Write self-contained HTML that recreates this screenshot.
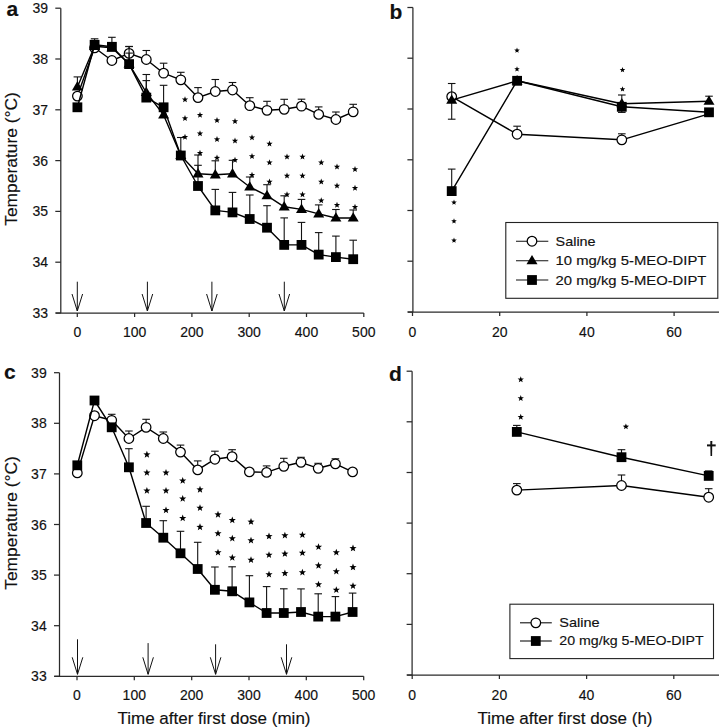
<!DOCTYPE html>
<html><head><meta charset="utf-8"><style>
html,body{margin:0;padding:0;background:#fff;width:719px;height:727px;overflow:hidden}
svg{display:block}
text{font-family:"Liberation Sans",sans-serif;fill:#111;stroke:#111;stroke-width:0.15}
</style></head><body>
<svg width="719" height="727" viewBox="0 0 719 727">
<rect width="719" height="727" fill="#fff"/>
<line x1="60.8" y1="8.2" x2="60.8" y2="313.0" stroke="#2a2a2a" stroke-width="1.25"/>
<line x1="55.8" y1="313.0" x2="363.8" y2="313.0" stroke="#2a2a2a" stroke-width="1.25"/>
<line x1="55.3" y1="313.0" x2="60.8" y2="313.0" stroke="#2a2a2a" stroke-width="1.25"/>
<text x="48.0" y="318.0" font-size="14" text-anchor="end" font-weight="normal" >33</text>
<line x1="55.3" y1="262.2" x2="60.8" y2="262.2" stroke="#2a2a2a" stroke-width="1.25"/>
<text x="48.0" y="267.2" font-size="14" text-anchor="end" font-weight="normal" >34</text>
<line x1="55.3" y1="211.4" x2="60.8" y2="211.4" stroke="#2a2a2a" stroke-width="1.25"/>
<text x="48.0" y="216.4" font-size="14" text-anchor="end" font-weight="normal" >35</text>
<line x1="55.3" y1="160.6" x2="60.8" y2="160.6" stroke="#2a2a2a" stroke-width="1.25"/>
<text x="48.0" y="165.6" font-size="14" text-anchor="end" font-weight="normal" >36</text>
<line x1="55.3" y1="109.8" x2="60.8" y2="109.8" stroke="#2a2a2a" stroke-width="1.25"/>
<text x="48.0" y="114.8" font-size="14" text-anchor="end" font-weight="normal" >37</text>
<line x1="55.3" y1="59.0" x2="60.8" y2="59.0" stroke="#2a2a2a" stroke-width="1.25"/>
<text x="48.0" y="64.0" font-size="14" text-anchor="end" font-weight="normal" >38</text>
<line x1="55.3" y1="8.2" x2="60.8" y2="8.2" stroke="#2a2a2a" stroke-width="1.25"/>
<text x="48.0" y="13.2" font-size="14" text-anchor="end" font-weight="normal" >39</text>
<line x1="77.3" y1="313.0" x2="77.3" y2="317.0" stroke="#2a2a2a" stroke-width="1.25"/>
<text x="77.3" y="337.0" font-size="14" text-anchor="middle" font-weight="normal" >0</text>
<line x1="134.6" y1="313.0" x2="134.6" y2="317.0" stroke="#2a2a2a" stroke-width="1.25"/>
<text x="134.6" y="337.0" font-size="14" text-anchor="middle" font-weight="normal" >100</text>
<line x1="191.9" y1="313.0" x2="191.9" y2="317.0" stroke="#2a2a2a" stroke-width="1.25"/>
<text x="191.9" y="337.0" font-size="14" text-anchor="middle" font-weight="normal" >200</text>
<line x1="249.2" y1="313.0" x2="249.2" y2="317.0" stroke="#2a2a2a" stroke-width="1.25"/>
<text x="249.2" y="337.0" font-size="14" text-anchor="middle" font-weight="normal" >300</text>
<line x1="306.5" y1="313.0" x2="306.5" y2="317.0" stroke="#2a2a2a" stroke-width="1.25"/>
<text x="306.5" y="337.0" font-size="14" text-anchor="middle" font-weight="normal" >400</text>
<line x1="363.8" y1="313.0" x2="363.8" y2="317.0" stroke="#2a2a2a" stroke-width="1.25"/>
<text x="363.8" y="337.0" font-size="14" text-anchor="middle" font-weight="normal" >500</text>
<text x="6.6" y="16.4" font-size="21" text-anchor="start" font-weight="bold" >a</text>
<text x="0.0" y="0.0" font-size="17.4" text-anchor="middle" font-weight="normal" transform="translate(16.8,159) rotate(-90)">Temperature (°C)</text>
<line x1="77.3" y1="281.7" x2="77.3" y2="311.0" stroke="#111" stroke-width="1.0"/>
<polyline points="72.0,294.0 77.3,311.0 82.6,294.0" fill="none" stroke="#111" stroke-width="1.0" stroke-linejoin="round"/>
<line x1="147.4" y1="281.7" x2="147.4" y2="311.0" stroke="#111" stroke-width="1.0"/>
<polyline points="142.1,294.0 147.4,311.0 152.7,294.0" fill="none" stroke="#111" stroke-width="1.0" stroke-linejoin="round"/>
<line x1="211.9" y1="281.7" x2="211.9" y2="311.0" stroke="#111" stroke-width="1.0"/>
<polyline points="206.6,294.0 211.9,311.0 217.2,294.0" fill="none" stroke="#111" stroke-width="1.0" stroke-linejoin="round"/>
<line x1="284.3" y1="281.7" x2="284.3" y2="311.0" stroke="#111" stroke-width="1.0"/>
<polyline points="279.0,294.0 284.3,311.0 289.6,294.0" fill="none" stroke="#111" stroke-width="1.0" stroke-linejoin="round"/>
<line x1="129.1" y1="53.4" x2="129.1" y2="46.4" stroke="#111" stroke-width="1.1"/>
<line x1="125.3" y1="46.4" x2="132.9" y2="46.4" stroke="#111" stroke-width="1.1"/>
<line x1="146.3" y1="59.5" x2="146.3" y2="50.5" stroke="#111" stroke-width="1.1"/>
<line x1="142.5" y1="50.5" x2="150.1" y2="50.5" stroke="#111" stroke-width="1.1"/>
<line x1="163.6" y1="73.2" x2="163.6" y2="63.2" stroke="#111" stroke-width="1.1"/>
<line x1="159.8" y1="63.2" x2="167.4" y2="63.2" stroke="#111" stroke-width="1.1"/>
<line x1="180.8" y1="79.8" x2="180.8" y2="72.3" stroke="#111" stroke-width="1.1"/>
<line x1="177.0" y1="72.3" x2="184.6" y2="72.3" stroke="#111" stroke-width="1.1"/>
<line x1="198.0" y1="97.6" x2="198.0" y2="87.6" stroke="#111" stroke-width="1.1"/>
<line x1="194.2" y1="87.6" x2="201.8" y2="87.6" stroke="#111" stroke-width="1.1"/>
<line x1="215.3" y1="91.5" x2="215.3" y2="79.5" stroke="#111" stroke-width="1.1"/>
<line x1="211.5" y1="79.5" x2="219.1" y2="79.5" stroke="#111" stroke-width="1.1"/>
<line x1="232.5" y1="90.0" x2="232.5" y2="82.5" stroke="#111" stroke-width="1.1"/>
<line x1="228.7" y1="82.5" x2="236.3" y2="82.5" stroke="#111" stroke-width="1.1"/>
<line x1="249.8" y1="105.7" x2="249.8" y2="97.7" stroke="#111" stroke-width="1.1"/>
<line x1="245.9" y1="97.7" x2="253.6" y2="97.7" stroke="#111" stroke-width="1.1"/>
<line x1="267.0" y1="110.3" x2="267.0" y2="101.3" stroke="#111" stroke-width="1.1"/>
<line x1="263.2" y1="101.3" x2="270.8" y2="101.3" stroke="#111" stroke-width="1.1"/>
<line x1="284.2" y1="109.3" x2="284.2" y2="99.3" stroke="#111" stroke-width="1.1"/>
<line x1="280.4" y1="99.3" x2="288.0" y2="99.3" stroke="#111" stroke-width="1.1"/>
<line x1="301.5" y1="106.2" x2="301.5" y2="99.2" stroke="#111" stroke-width="1.1"/>
<line x1="297.7" y1="99.2" x2="305.3" y2="99.2" stroke="#111" stroke-width="1.1"/>
<line x1="318.7" y1="114.4" x2="318.7" y2="106.9" stroke="#111" stroke-width="1.1"/>
<line x1="314.9" y1="106.9" x2="322.5" y2="106.9" stroke="#111" stroke-width="1.1"/>
<line x1="335.9" y1="119.5" x2="335.9" y2="112.0" stroke="#111" stroke-width="1.1"/>
<line x1="332.1" y1="112.0" x2="339.7" y2="112.0" stroke="#111" stroke-width="1.1"/>
<line x1="353.2" y1="111.8" x2="353.2" y2="104.3" stroke="#111" stroke-width="1.1"/>
<line x1="349.4" y1="104.3" x2="357.0" y2="104.3" stroke="#111" stroke-width="1.1"/>
<polyline points="77.4,96.1 94.6,47.8 111.9,60.5 129.1,53.4 146.3,59.5 163.6,73.2 180.8,79.8 198.0,97.6 215.3,91.5 232.5,90.0 249.8,105.7 267.0,110.3 284.2,109.3 301.5,106.2 318.7,114.4 335.9,119.5 353.2,111.8" fill="none" stroke="#000" stroke-width="1.4" stroke-linejoin="round"/>
<circle cx="77.4" cy="96.1" r="4.8" fill="#fff" stroke="#000" stroke-width="1.25"/>
<circle cx="94.6" cy="47.8" r="4.8" fill="#fff" stroke="#000" stroke-width="1.25"/>
<circle cx="111.9" cy="60.5" r="4.8" fill="#fff" stroke="#000" stroke-width="1.25"/>
<circle cx="129.1" cy="53.4" r="4.8" fill="#fff" stroke="#000" stroke-width="1.25"/>
<circle cx="146.3" cy="59.5" r="4.8" fill="#fff" stroke="#000" stroke-width="1.25"/>
<circle cx="163.6" cy="73.2" r="4.8" fill="#fff" stroke="#000" stroke-width="1.25"/>
<circle cx="180.8" cy="79.8" r="4.8" fill="#fff" stroke="#000" stroke-width="1.25"/>
<circle cx="198.0" cy="97.6" r="4.8" fill="#fff" stroke="#000" stroke-width="1.25"/>
<circle cx="215.3" cy="91.5" r="4.8" fill="#fff" stroke="#000" stroke-width="1.25"/>
<circle cx="232.5" cy="90.0" r="4.8" fill="#fff" stroke="#000" stroke-width="1.25"/>
<circle cx="249.8" cy="105.7" r="4.8" fill="#fff" stroke="#000" stroke-width="1.25"/>
<circle cx="267.0" cy="110.3" r="4.8" fill="#fff" stroke="#000" stroke-width="1.25"/>
<circle cx="284.2" cy="109.3" r="4.8" fill="#fff" stroke="#000" stroke-width="1.25"/>
<circle cx="301.5" cy="106.2" r="4.8" fill="#fff" stroke="#000" stroke-width="1.25"/>
<circle cx="318.7" cy="114.4" r="4.8" fill="#fff" stroke="#000" stroke-width="1.25"/>
<circle cx="335.9" cy="119.5" r="4.8" fill="#fff" stroke="#000" stroke-width="1.25"/>
<circle cx="353.2" cy="111.8" r="4.8" fill="#fff" stroke="#000" stroke-width="1.25"/>
<line x1="77.4" y1="86.9" x2="77.4" y2="76.9" stroke="#111" stroke-width="1.1"/>
<line x1="73.6" y1="76.9" x2="81.2" y2="76.9" stroke="#111" stroke-width="1.1"/>
<line x1="129.1" y1="64.1" x2="129.1" y2="53.1" stroke="#111" stroke-width="1.1"/>
<line x1="125.3" y1="53.1" x2="132.9" y2="53.1" stroke="#111" stroke-width="1.1"/>
<line x1="146.3" y1="92.5" x2="146.3" y2="74.5" stroke="#111" stroke-width="1.1"/>
<line x1="142.5" y1="74.5" x2="150.1" y2="74.5" stroke="#111" stroke-width="1.1"/>
<line x1="163.6" y1="114.9" x2="163.6" y2="103.9" stroke="#111" stroke-width="1.1"/>
<line x1="159.8" y1="103.9" x2="167.4" y2="103.9" stroke="#111" stroke-width="1.1"/>
<line x1="198.0" y1="173.8" x2="198.0" y2="165.3" stroke="#111" stroke-width="1.1"/>
<line x1="194.2" y1="165.3" x2="201.8" y2="165.3" stroke="#111" stroke-width="1.1"/>
<line x1="215.3" y1="174.8" x2="215.3" y2="160.8" stroke="#111" stroke-width="1.1"/>
<line x1="211.5" y1="160.8" x2="219.1" y2="160.8" stroke="#111" stroke-width="1.1"/>
<line x1="232.5" y1="173.8" x2="232.5" y2="160.3" stroke="#111" stroke-width="1.1"/>
<line x1="228.7" y1="160.3" x2="236.3" y2="160.3" stroke="#111" stroke-width="1.1"/>
<line x1="249.8" y1="187.0" x2="249.8" y2="177.0" stroke="#111" stroke-width="1.1"/>
<line x1="245.9" y1="177.0" x2="253.6" y2="177.0" stroke="#111" stroke-width="1.1"/>
<line x1="267.0" y1="195.7" x2="267.0" y2="184.7" stroke="#111" stroke-width="1.1"/>
<line x1="263.2" y1="184.7" x2="270.8" y2="184.7" stroke="#111" stroke-width="1.1"/>
<line x1="284.2" y1="206.8" x2="284.2" y2="195.8" stroke="#111" stroke-width="1.1"/>
<line x1="280.4" y1="195.8" x2="288.0" y2="195.8" stroke="#111" stroke-width="1.1"/>
<line x1="301.5" y1="209.4" x2="301.5" y2="199.4" stroke="#111" stroke-width="1.1"/>
<line x1="297.7" y1="199.4" x2="305.3" y2="199.4" stroke="#111" stroke-width="1.1"/>
<line x1="318.7" y1="213.9" x2="318.7" y2="204.9" stroke="#111" stroke-width="1.1"/>
<line x1="314.9" y1="204.9" x2="322.5" y2="204.9" stroke="#111" stroke-width="1.1"/>
<line x1="335.9" y1="218.0" x2="335.9" y2="209.5" stroke="#111" stroke-width="1.1"/>
<line x1="332.1" y1="209.5" x2="339.7" y2="209.5" stroke="#111" stroke-width="1.1"/>
<line x1="353.2" y1="218.0" x2="353.2" y2="210.0" stroke="#111" stroke-width="1.1"/>
<line x1="349.4" y1="210.0" x2="357.0" y2="210.0" stroke="#111" stroke-width="1.1"/>
<polyline points="77.4,86.9 94.6,46.3 111.9,47.8 129.1,64.1 146.3,92.5 163.6,114.9 180.8,155.5 198.0,173.8 215.3,174.8 232.5,173.8 249.8,187.0 267.0,195.7 284.2,206.8 301.5,209.4 318.7,213.9 335.9,218.0 353.2,218.0" fill="none" stroke="#000" stroke-width="1.4" stroke-linejoin="round"/>
<polygon points="77.4,81.1 82.9,90.5 71.9,90.5" fill="#000"/>
<polygon points="94.6,40.5 100.1,49.9 89.1,49.9" fill="#000"/>
<polygon points="111.9,42.0 117.4,51.4 106.4,51.4" fill="#000"/>
<polygon points="129.1,58.3 134.6,67.6 123.6,67.6" fill="#000"/>
<polygon points="146.3,86.7 151.8,96.1 140.8,96.1" fill="#000"/>
<polygon points="163.6,109.1 169.1,118.4 158.1,118.4" fill="#000"/>
<polygon points="180.8,149.7 186.3,159.1 175.3,159.1" fill="#000"/>
<polygon points="198.0,168.0 203.5,177.4 192.5,177.4" fill="#000"/>
<polygon points="215.3,169.0 220.8,178.4 209.8,178.4" fill="#000"/>
<polygon points="232.5,168.0 238.0,177.4 227.0,177.4" fill="#000"/>
<polygon points="249.8,181.2 255.2,190.6 244.2,190.6" fill="#000"/>
<polygon points="267.0,189.9 272.5,199.2 261.5,199.2" fill="#000"/>
<polygon points="284.2,201.0 289.7,210.4 278.7,210.4" fill="#000"/>
<polygon points="301.5,203.6 307.0,212.9 296.0,212.9" fill="#000"/>
<polygon points="318.7,208.1 324.2,217.5 313.2,217.5" fill="#000"/>
<polygon points="335.9,212.2 341.4,221.6 330.4,221.6" fill="#000"/>
<polygon points="353.2,212.2 358.7,221.6 347.7,221.6" fill="#000"/>
<line x1="94.6" y1="44.8" x2="94.6" y2="38.8" stroke="#111" stroke-width="1.1"/>
<line x1="90.8" y1="38.8" x2="98.4" y2="38.8" stroke="#111" stroke-width="1.1"/>
<line x1="111.9" y1="46.8" x2="111.9" y2="37.3" stroke="#111" stroke-width="1.1"/>
<line x1="108.1" y1="37.3" x2="115.7" y2="37.3" stroke="#111" stroke-width="1.1"/>
<line x1="129.1" y1="64.1" x2="129.1" y2="46.6" stroke="#111" stroke-width="1.1"/>
<line x1="125.3" y1="46.6" x2="132.9" y2="46.6" stroke="#111" stroke-width="1.1"/>
<line x1="146.3" y1="97.6" x2="146.3" y2="80.6" stroke="#111" stroke-width="1.1"/>
<line x1="142.5" y1="80.6" x2="150.1" y2="80.6" stroke="#111" stroke-width="1.1"/>
<line x1="163.6" y1="107.3" x2="163.6" y2="85.3" stroke="#111" stroke-width="1.1"/>
<line x1="159.8" y1="85.3" x2="167.4" y2="85.3" stroke="#111" stroke-width="1.1"/>
<line x1="180.8" y1="155.5" x2="180.8" y2="137.5" stroke="#111" stroke-width="1.1"/>
<line x1="177.0" y1="137.5" x2="184.6" y2="137.5" stroke="#111" stroke-width="1.1"/>
<line x1="198.0" y1="186.0" x2="198.0" y2="155.0" stroke="#111" stroke-width="1.1"/>
<line x1="194.2" y1="155.0" x2="201.8" y2="155.0" stroke="#111" stroke-width="1.1"/>
<line x1="215.3" y1="210.4" x2="215.3" y2="189.4" stroke="#111" stroke-width="1.1"/>
<line x1="211.5" y1="189.4" x2="219.1" y2="189.4" stroke="#111" stroke-width="1.1"/>
<line x1="232.5" y1="212.4" x2="232.5" y2="192.4" stroke="#111" stroke-width="1.1"/>
<line x1="228.7" y1="192.4" x2="236.3" y2="192.4" stroke="#111" stroke-width="1.1"/>
<line x1="249.8" y1="219.0" x2="249.8" y2="195.0" stroke="#111" stroke-width="1.1"/>
<line x1="245.9" y1="195.0" x2="253.6" y2="195.0" stroke="#111" stroke-width="1.1"/>
<line x1="267.0" y1="227.7" x2="267.0" y2="205.7" stroke="#111" stroke-width="1.1"/>
<line x1="263.2" y1="205.7" x2="270.8" y2="205.7" stroke="#111" stroke-width="1.1"/>
<line x1="284.2" y1="244.9" x2="284.2" y2="217.9" stroke="#111" stroke-width="1.1"/>
<line x1="280.4" y1="217.9" x2="288.0" y2="217.9" stroke="#111" stroke-width="1.1"/>
<line x1="301.5" y1="244.9" x2="301.5" y2="222.4" stroke="#111" stroke-width="1.1"/>
<line x1="297.7" y1="222.4" x2="305.3" y2="222.4" stroke="#111" stroke-width="1.1"/>
<line x1="318.7" y1="254.6" x2="318.7" y2="232.6" stroke="#111" stroke-width="1.1"/>
<line x1="314.9" y1="232.6" x2="322.5" y2="232.6" stroke="#111" stroke-width="1.1"/>
<line x1="335.9" y1="257.1" x2="335.9" y2="236.1" stroke="#111" stroke-width="1.1"/>
<line x1="332.1" y1="236.1" x2="339.7" y2="236.1" stroke="#111" stroke-width="1.1"/>
<line x1="353.2" y1="259.2" x2="353.2" y2="240.2" stroke="#111" stroke-width="1.1"/>
<line x1="349.4" y1="240.2" x2="357.0" y2="240.2" stroke="#111" stroke-width="1.1"/>
<polyline points="77.4,107.3 94.6,44.8 111.9,46.8 129.1,64.1 146.3,97.6 163.6,107.3 180.8,155.5 198.0,186.0 215.3,210.4 232.5,212.4 249.8,219.0 267.0,227.7 284.2,244.9 301.5,244.9 318.7,254.6 335.9,257.1 353.2,259.2" fill="none" stroke="#000" stroke-width="1.4" stroke-linejoin="round"/>
<rect x="72.5" y="102.4" width="9.8" height="9.8" fill="#000"/>
<rect x="89.7" y="39.9" width="9.8" height="9.8" fill="#000"/>
<rect x="107.0" y="41.9" width="9.8" height="9.8" fill="#000"/>
<rect x="124.2" y="59.2" width="9.8" height="9.8" fill="#000"/>
<rect x="141.4" y="92.7" width="9.8" height="9.8" fill="#000"/>
<rect x="158.7" y="102.4" width="9.8" height="9.8" fill="#000"/>
<rect x="175.9" y="150.6" width="9.8" height="9.8" fill="#000"/>
<rect x="193.1" y="181.1" width="9.8" height="9.8" fill="#000"/>
<rect x="210.4" y="205.5" width="9.8" height="9.8" fill="#000"/>
<rect x="227.6" y="207.5" width="9.8" height="9.8" fill="#000"/>
<rect x="244.8" y="214.1" width="9.8" height="9.8" fill="#000"/>
<rect x="262.1" y="222.8" width="9.8" height="9.8" fill="#000"/>
<rect x="279.3" y="240.0" width="9.8" height="9.8" fill="#000"/>
<rect x="296.6" y="240.0" width="9.8" height="9.8" fill="#000"/>
<rect x="313.8" y="249.7" width="9.8" height="9.8" fill="#000"/>
<rect x="331.0" y="252.2" width="9.8" height="9.8" fill="#000"/>
<rect x="348.3" y="254.3" width="9.8" height="9.8" fill="#000"/>
<polygon points="185.00,96.20 185.81,98.38 188.14,98.48 186.32,99.93 186.94,102.17 185.00,100.89 183.06,102.17 183.68,99.93 181.86,98.48 184.19,98.38" fill="#000"/>
<polygon points="185.00,115.10 185.81,117.28 188.14,117.38 186.32,118.83 186.94,121.07 185.00,119.79 183.06,121.07 183.68,118.83 181.86,117.38 184.19,117.28" fill="#000"/>
<polygon points="185.00,133.70 185.81,135.88 188.14,135.98 186.32,137.43 186.94,139.67 185.00,138.39 183.06,139.67 183.68,137.43 181.86,135.98 184.19,135.88" fill="#000"/>
<polygon points="200.00,111.80 200.81,113.98 203.14,114.08 201.32,115.53 201.94,117.77 200.00,116.49 198.06,117.77 198.68,115.53 196.86,114.08 199.19,113.98" fill="#000"/>
<polygon points="200.00,130.30 200.81,132.48 203.14,132.58 201.32,134.03 201.94,136.27 200.00,134.99 198.06,136.27 198.68,134.03 196.86,132.58 199.19,132.48" fill="#000"/>
<polygon points="200.00,149.80 200.81,151.98 203.14,152.08 201.32,153.53 201.94,155.77 200.00,154.49 198.06,155.77 198.68,153.53 196.86,152.08 199.19,151.98" fill="#000"/>
<polygon points="217.00,117.10 217.81,119.28 220.14,119.38 218.32,120.83 218.94,123.07 217.00,121.79 215.06,123.07 215.68,120.83 213.86,119.38 216.19,119.28" fill="#000"/>
<polygon points="217.00,136.10 217.81,138.28 220.14,138.38 218.32,139.83 218.94,142.07 217.00,140.79 215.06,142.07 215.68,139.83 213.86,138.38 216.19,138.28" fill="#000"/>
<polygon points="217.00,154.60 217.81,156.78 220.14,156.88 218.32,158.33 218.94,160.57 217.00,159.29 215.06,160.57 215.68,158.33 213.86,156.88 216.19,156.78" fill="#000"/>
<polygon points="235.00,117.95 235.81,120.13 238.14,120.23 236.32,121.68 236.94,123.92 235.00,122.64 233.06,123.92 233.68,121.68 231.86,120.23 234.19,120.13" fill="#000"/>
<polygon points="235.00,137.45 235.81,139.63 238.14,139.73 236.32,141.18 236.94,143.42 235.00,142.14 233.06,143.42 233.68,141.18 231.86,139.73 234.19,139.63" fill="#000"/>
<polygon points="235.00,156.70 235.81,158.88 238.14,158.98 236.32,160.43 236.94,162.67 235.00,161.39 233.06,162.67 233.68,160.43 231.86,158.98 234.19,158.88" fill="#000"/>
<polygon points="252.00,134.20 252.81,136.38 255.14,136.48 253.32,137.93 253.94,140.17 252.00,138.89 250.06,140.17 250.68,137.93 248.86,136.48 251.19,136.38" fill="#000"/>
<polygon points="252.00,152.95 252.81,155.13 255.14,155.23 253.32,156.68 253.94,158.92 252.00,157.64 250.06,158.92 250.68,156.68 248.86,155.23 251.19,155.13" fill="#000"/>
<polygon points="252.00,171.70 252.81,173.88 255.14,173.98 253.32,175.43 253.94,177.67 252.00,176.39 250.06,177.67 250.68,175.43 248.86,173.98 251.19,173.88" fill="#000"/>
<polygon points="269.50,140.45 270.31,142.63 272.64,142.73 270.82,144.18 271.44,146.42 269.50,145.14 267.56,146.42 268.18,144.18 266.36,142.73 268.69,142.63" fill="#000"/>
<polygon points="269.50,159.20 270.31,161.38 272.64,161.48 270.82,162.93 271.44,165.17 269.50,163.89 267.56,165.17 268.18,162.93 266.36,161.48 268.69,161.38" fill="#000"/>
<polygon points="269.50,178.45 270.31,180.63 272.64,180.73 270.82,182.18 271.44,184.42 269.50,183.14 267.56,184.42 268.18,182.18 266.36,180.73 268.69,180.63" fill="#000"/>
<polygon points="287.00,153.45 287.81,155.63 290.14,155.73 288.32,157.18 288.94,159.42 287.00,158.14 285.06,159.42 285.68,157.18 283.86,155.73 286.19,155.63" fill="#000"/>
<polygon points="287.00,172.45 287.81,174.63 290.14,174.73 288.32,176.18 288.94,178.42 287.00,177.14 285.06,178.42 285.68,176.18 283.86,174.73 286.19,174.63" fill="#000"/>
<polygon points="287.00,191.20 287.81,193.38 290.14,193.48 288.32,194.93 288.94,197.17 287.00,195.89 285.06,197.17 285.68,194.93 283.86,193.48 286.19,193.38" fill="#000"/>
<polygon points="302.50,153.45 303.31,155.63 305.64,155.73 303.82,157.18 304.44,159.42 302.50,158.14 300.56,159.42 301.18,157.18 299.36,155.73 301.69,155.63" fill="#000"/>
<polygon points="302.50,172.45 303.31,174.63 305.64,174.73 303.82,176.18 304.44,178.42 302.50,177.14 300.56,178.42 301.18,176.18 299.36,174.73 301.69,174.63" fill="#000"/>
<polygon points="302.50,191.20 303.31,193.38 305.64,193.48 303.82,194.93 304.44,197.17 302.50,195.89 300.56,197.17 301.18,194.93 299.36,193.48 301.69,193.38" fill="#000"/>
<polygon points="321.25,159.20 322.06,161.38 324.39,161.48 322.57,162.93 323.19,165.17 321.25,163.89 319.31,165.17 319.93,162.93 318.11,161.48 320.44,161.38" fill="#000"/>
<polygon points="321.25,178.45 322.06,180.63 324.39,180.73 322.57,182.18 323.19,184.42 321.25,183.14 319.31,184.42 319.93,182.18 318.11,180.73 320.44,180.63" fill="#000"/>
<polygon points="321.25,197.20 322.06,199.38 324.39,199.48 322.57,200.93 323.19,203.17 321.25,201.89 319.31,203.17 319.93,200.93 318.11,199.48 320.44,199.38" fill="#000"/>
<polygon points="337.00,163.45 337.81,165.63 340.14,165.73 338.32,167.18 338.94,169.42 337.00,168.14 335.06,169.42 335.68,167.18 333.86,165.73 336.19,165.63" fill="#000"/>
<polygon points="337.00,182.45 337.81,184.63 340.14,184.73 338.32,186.18 338.94,188.42 337.00,187.14 335.06,188.42 335.68,186.18 333.86,184.73 336.19,184.63" fill="#000"/>
<polygon points="337.00,201.70 337.81,203.88 340.14,203.98 338.32,205.43 338.94,207.67 337.00,206.39 335.06,207.67 335.68,205.43 333.86,203.98 336.19,203.88" fill="#000"/>
<polygon points="355.00,165.95 355.81,168.13 358.14,168.23 356.32,169.68 356.94,171.92 355.00,170.64 353.06,171.92 353.68,169.68 351.86,168.23 354.19,168.13" fill="#000"/>
<polygon points="355.00,184.70 355.81,186.88 358.14,186.98 356.32,188.43 356.94,190.67 355.00,189.39 353.06,190.67 353.68,188.43 351.86,186.98 354.19,186.88" fill="#000"/>
<polygon points="355.00,203.70 355.81,205.88 358.14,205.98 356.32,207.43 356.94,209.67 355.00,208.39 353.06,209.67 353.68,207.43 351.86,205.98 354.19,205.88" fill="#000"/>
<line x1="59.5" y1="372.7" x2="59.5" y2="676.3" stroke="#2a2a2a" stroke-width="1.25"/>
<line x1="54.5" y1="676.3" x2="363.7" y2="676.3" stroke="#2a2a2a" stroke-width="1.25"/>
<line x1="54.0" y1="676.3" x2="59.5" y2="676.3" stroke="#2a2a2a" stroke-width="1.25"/>
<text x="46.7" y="681.3" font-size="14" text-anchor="end" font-weight="normal" >33</text>
<line x1="54.0" y1="625.7" x2="59.5" y2="625.7" stroke="#2a2a2a" stroke-width="1.25"/>
<text x="46.7" y="630.7" font-size="14" text-anchor="end" font-weight="normal" >34</text>
<line x1="54.0" y1="575.1" x2="59.5" y2="575.1" stroke="#2a2a2a" stroke-width="1.25"/>
<text x="46.7" y="580.1" font-size="14" text-anchor="end" font-weight="normal" >35</text>
<line x1="54.0" y1="524.5" x2="59.5" y2="524.5" stroke="#2a2a2a" stroke-width="1.25"/>
<text x="46.7" y="529.5" font-size="14" text-anchor="end" font-weight="normal" >36</text>
<line x1="54.0" y1="473.9" x2="59.5" y2="473.9" stroke="#2a2a2a" stroke-width="1.25"/>
<text x="46.7" y="478.9" font-size="14" text-anchor="end" font-weight="normal" >37</text>
<line x1="54.0" y1="423.3" x2="59.5" y2="423.3" stroke="#2a2a2a" stroke-width="1.25"/>
<text x="46.7" y="428.3" font-size="14" text-anchor="end" font-weight="normal" >38</text>
<line x1="54.0" y1="372.7" x2="59.5" y2="372.7" stroke="#2a2a2a" stroke-width="1.25"/>
<text x="46.7" y="377.7" font-size="14" text-anchor="end" font-weight="normal" >39</text>
<line x1="77.0" y1="676.3" x2="77.0" y2="680.3" stroke="#2a2a2a" stroke-width="1.25"/>
<text x="77.0" y="700.0" font-size="14" text-anchor="middle" font-weight="normal" >0</text>
<line x1="134.3" y1="676.3" x2="134.3" y2="680.3" stroke="#2a2a2a" stroke-width="1.25"/>
<text x="134.3" y="700.0" font-size="14" text-anchor="middle" font-weight="normal" >100</text>
<line x1="191.7" y1="676.3" x2="191.7" y2="680.3" stroke="#2a2a2a" stroke-width="1.25"/>
<text x="191.7" y="700.0" font-size="14" text-anchor="middle" font-weight="normal" >200</text>
<line x1="249.0" y1="676.3" x2="249.0" y2="680.3" stroke="#2a2a2a" stroke-width="1.25"/>
<text x="249.0" y="700.0" font-size="14" text-anchor="middle" font-weight="normal" >300</text>
<line x1="306.3" y1="676.3" x2="306.3" y2="680.3" stroke="#2a2a2a" stroke-width="1.25"/>
<text x="306.3" y="700.0" font-size="14" text-anchor="middle" font-weight="normal" >400</text>
<line x1="363.7" y1="676.3" x2="363.7" y2="680.3" stroke="#2a2a2a" stroke-width="1.25"/>
<text x="363.7" y="700.0" font-size="14" text-anchor="middle" font-weight="normal" >500</text>
<text x="4.0" y="378.7" font-size="21" text-anchor="start" font-weight="bold" >c</text>
<text x="0.0" y="0.0" font-size="17.4" text-anchor="middle" font-weight="normal" transform="translate(16.8,523) rotate(-90)">Temperature (°C)</text>
<line x1="77.5" y1="639.3" x2="77.5" y2="674.3" stroke="#111" stroke-width="1.0"/>
<polyline points="72.2,657.3 77.5,674.3 82.8,657.3" fill="none" stroke="#111" stroke-width="1.0" stroke-linejoin="round"/>
<line x1="148.1" y1="643.1" x2="148.1" y2="674.3" stroke="#111" stroke-width="1.0"/>
<polyline points="142.8,657.3 148.1,674.3 153.4,657.3" fill="none" stroke="#111" stroke-width="1.0" stroke-linejoin="round"/>
<line x1="215.6" y1="644.3" x2="215.6" y2="674.3" stroke="#111" stroke-width="1.0"/>
<polyline points="210.3,657.3 215.6,674.3 220.9,657.3" fill="none" stroke="#111" stroke-width="1.0" stroke-linejoin="round"/>
<line x1="286.5" y1="644.3" x2="286.5" y2="674.3" stroke="#111" stroke-width="1.0"/>
<polyline points="281.2,657.3 286.5,674.3 291.8,657.3" fill="none" stroke="#111" stroke-width="1.0" stroke-linejoin="round"/>
<line x1="111.7" y1="420.3" x2="111.7" y2="414.3" stroke="#111" stroke-width="1.1"/>
<line x1="107.9" y1="414.3" x2="115.5" y2="414.3" stroke="#111" stroke-width="1.1"/>
<line x1="128.9" y1="438.5" x2="128.9" y2="431.0" stroke="#111" stroke-width="1.1"/>
<line x1="125.1" y1="431.0" x2="132.7" y2="431.0" stroke="#111" stroke-width="1.1"/>
<line x1="146.1" y1="427.3" x2="146.1" y2="419.3" stroke="#111" stroke-width="1.1"/>
<line x1="142.3" y1="419.3" x2="149.9" y2="419.3" stroke="#111" stroke-width="1.1"/>
<line x1="163.3" y1="438.5" x2="163.3" y2="432.0" stroke="#111" stroke-width="1.1"/>
<line x1="159.5" y1="432.0" x2="167.1" y2="432.0" stroke="#111" stroke-width="1.1"/>
<line x1="180.5" y1="452.1" x2="180.5" y2="445.1" stroke="#111" stroke-width="1.1"/>
<line x1="176.7" y1="445.1" x2="184.3" y2="445.1" stroke="#111" stroke-width="1.1"/>
<line x1="197.7" y1="469.9" x2="197.7" y2="460.9" stroke="#111" stroke-width="1.1"/>
<line x1="193.9" y1="460.9" x2="201.5" y2="460.9" stroke="#111" stroke-width="1.1"/>
<line x1="214.9" y1="459.2" x2="214.9" y2="451.2" stroke="#111" stroke-width="1.1"/>
<line x1="211.1" y1="451.2" x2="218.7" y2="451.2" stroke="#111" stroke-width="1.1"/>
<line x1="232.1" y1="456.7" x2="232.1" y2="449.7" stroke="#111" stroke-width="1.1"/>
<line x1="228.3" y1="449.7" x2="235.9" y2="449.7" stroke="#111" stroke-width="1.1"/>
<line x1="266.6" y1="472.4" x2="266.6" y2="465.9" stroke="#111" stroke-width="1.1"/>
<line x1="262.8" y1="465.9" x2="270.4" y2="465.9" stroke="#111" stroke-width="1.1"/>
<line x1="283.8" y1="466.3" x2="283.8" y2="458.3" stroke="#111" stroke-width="1.1"/>
<line x1="280.0" y1="458.3" x2="287.6" y2="458.3" stroke="#111" stroke-width="1.1"/>
<line x1="301.0" y1="462.3" x2="301.0" y2="457.3" stroke="#111" stroke-width="1.1"/>
<line x1="297.2" y1="457.3" x2="304.8" y2="457.3" stroke="#111" stroke-width="1.1"/>
<line x1="318.2" y1="468.3" x2="318.2" y2="463.3" stroke="#111" stroke-width="1.1"/>
<line x1="314.4" y1="463.3" x2="322.0" y2="463.3" stroke="#111" stroke-width="1.1"/>
<line x1="335.4" y1="463.8" x2="335.4" y2="458.8" stroke="#111" stroke-width="1.1"/>
<line x1="331.6" y1="458.8" x2="339.2" y2="458.8" stroke="#111" stroke-width="1.1"/>
<polyline points="77.3,472.9 94.5,415.7 111.7,420.3 128.9,438.5 146.1,427.3 163.3,438.5 180.5,452.1 197.7,469.9 214.9,459.2 232.1,456.7 249.4,471.9 266.6,472.4 283.8,466.3 301.0,462.3 318.2,468.3 335.4,463.8 352.6,471.9" fill="none" stroke="#000" stroke-width="1.4" stroke-linejoin="round"/>
<circle cx="77.3" cy="472.9" r="4.8" fill="#fff" stroke="#000" stroke-width="1.25"/>
<circle cx="94.5" cy="415.7" r="4.8" fill="#fff" stroke="#000" stroke-width="1.25"/>
<circle cx="111.7" cy="420.3" r="4.8" fill="#fff" stroke="#000" stroke-width="1.25"/>
<circle cx="128.9" cy="438.5" r="4.8" fill="#fff" stroke="#000" stroke-width="1.25"/>
<circle cx="146.1" cy="427.3" r="4.8" fill="#fff" stroke="#000" stroke-width="1.25"/>
<circle cx="163.3" cy="438.5" r="4.8" fill="#fff" stroke="#000" stroke-width="1.25"/>
<circle cx="180.5" cy="452.1" r="4.8" fill="#fff" stroke="#000" stroke-width="1.25"/>
<circle cx="197.7" cy="469.9" r="4.8" fill="#fff" stroke="#000" stroke-width="1.25"/>
<circle cx="214.9" cy="459.2" r="4.8" fill="#fff" stroke="#000" stroke-width="1.25"/>
<circle cx="232.1" cy="456.7" r="4.8" fill="#fff" stroke="#000" stroke-width="1.25"/>
<circle cx="249.4" cy="471.9" r="4.8" fill="#fff" stroke="#000" stroke-width="1.25"/>
<circle cx="266.6" cy="472.4" r="4.8" fill="#fff" stroke="#000" stroke-width="1.25"/>
<circle cx="283.8" cy="466.3" r="4.8" fill="#fff" stroke="#000" stroke-width="1.25"/>
<circle cx="301.0" cy="462.3" r="4.8" fill="#fff" stroke="#000" stroke-width="1.25"/>
<circle cx="318.2" cy="468.3" r="4.8" fill="#fff" stroke="#000" stroke-width="1.25"/>
<circle cx="335.4" cy="463.8" r="4.8" fill="#fff" stroke="#000" stroke-width="1.25"/>
<circle cx="352.6" cy="471.9" r="4.8" fill="#fff" stroke="#000" stroke-width="1.25"/>
<line x1="128.9" y1="467.3" x2="128.9" y2="448.7" stroke="#111" stroke-width="1.1"/>
<line x1="125.1" y1="448.7" x2="132.7" y2="448.7" stroke="#111" stroke-width="1.1"/>
<line x1="146.1" y1="523.0" x2="146.1" y2="506.3" stroke="#111" stroke-width="1.1"/>
<line x1="142.3" y1="506.3" x2="149.9" y2="506.3" stroke="#111" stroke-width="1.1"/>
<line x1="163.3" y1="537.7" x2="163.3" y2="520.7" stroke="#111" stroke-width="1.1"/>
<line x1="159.5" y1="520.7" x2="167.1" y2="520.7" stroke="#111" stroke-width="1.1"/>
<line x1="180.5" y1="553.3" x2="180.5" y2="531.3" stroke="#111" stroke-width="1.1"/>
<line x1="176.7" y1="531.3" x2="184.3" y2="531.3" stroke="#111" stroke-width="1.1"/>
<line x1="197.7" y1="569.0" x2="197.7" y2="542.3" stroke="#111" stroke-width="1.1"/>
<line x1="193.9" y1="542.3" x2="201.5" y2="542.3" stroke="#111" stroke-width="1.1"/>
<line x1="214.9" y1="589.8" x2="214.9" y2="567.0" stroke="#111" stroke-width="1.1"/>
<line x1="211.1" y1="567.0" x2="218.7" y2="567.0" stroke="#111" stroke-width="1.1"/>
<line x1="232.1" y1="591.3" x2="232.1" y2="566.8" stroke="#111" stroke-width="1.1"/>
<line x1="228.3" y1="566.8" x2="235.9" y2="566.8" stroke="#111" stroke-width="1.1"/>
<line x1="249.4" y1="602.4" x2="249.4" y2="575.7" stroke="#111" stroke-width="1.1"/>
<line x1="245.6" y1="575.7" x2="253.2" y2="575.7" stroke="#111" stroke-width="1.1"/>
<line x1="266.6" y1="613.0" x2="266.6" y2="586.6" stroke="#111" stroke-width="1.1"/>
<line x1="262.8" y1="586.6" x2="270.4" y2="586.6" stroke="#111" stroke-width="1.1"/>
<line x1="283.8" y1="613.0" x2="283.8" y2="588.8" stroke="#111" stroke-width="1.1"/>
<line x1="280.0" y1="588.8" x2="287.6" y2="588.8" stroke="#111" stroke-width="1.1"/>
<line x1="301.0" y1="612.0" x2="301.0" y2="588.9" stroke="#111" stroke-width="1.1"/>
<line x1="297.2" y1="588.9" x2="304.8" y2="588.9" stroke="#111" stroke-width="1.1"/>
<line x1="318.2" y1="616.6" x2="318.2" y2="593.8" stroke="#111" stroke-width="1.1"/>
<line x1="314.4" y1="593.8" x2="322.0" y2="593.8" stroke="#111" stroke-width="1.1"/>
<line x1="335.4" y1="616.6" x2="335.4" y2="596.6" stroke="#111" stroke-width="1.1"/>
<line x1="331.6" y1="596.6" x2="339.2" y2="596.6" stroke="#111" stroke-width="1.1"/>
<line x1="352.6" y1="612.0" x2="352.6" y2="593.1" stroke="#111" stroke-width="1.1"/>
<line x1="348.8" y1="593.1" x2="356.4" y2="593.1" stroke="#111" stroke-width="1.1"/>
<polyline points="77.3,465.3 94.5,400.5 111.7,427.3 128.9,467.3 146.1,523.0 163.3,537.7 180.5,553.3 197.7,569.0 214.9,589.8 232.1,591.3 249.4,602.4 266.6,613.0 283.8,613.0 301.0,612.0 318.2,616.6 335.4,616.6 352.6,612.0" fill="none" stroke="#000" stroke-width="1.4" stroke-linejoin="round"/>
<rect x="72.4" y="460.4" width="9.8" height="9.8" fill="#000"/>
<rect x="89.6" y="395.6" width="9.8" height="9.8" fill="#000"/>
<rect x="106.8" y="422.4" width="9.8" height="9.8" fill="#000"/>
<rect x="124.0" y="462.4" width="9.8" height="9.8" fill="#000"/>
<rect x="141.2" y="518.1" width="9.8" height="9.8" fill="#000"/>
<rect x="158.4" y="532.8" width="9.8" height="9.8" fill="#000"/>
<rect x="175.6" y="548.4" width="9.8" height="9.8" fill="#000"/>
<rect x="192.8" y="564.1" width="9.8" height="9.8" fill="#000"/>
<rect x="210.0" y="584.9" width="9.8" height="9.8" fill="#000"/>
<rect x="227.2" y="586.4" width="9.8" height="9.8" fill="#000"/>
<rect x="244.5" y="597.5" width="9.8" height="9.8" fill="#000"/>
<rect x="261.7" y="608.1" width="9.8" height="9.8" fill="#000"/>
<rect x="278.9" y="608.1" width="9.8" height="9.8" fill="#000"/>
<rect x="296.1" y="607.1" width="9.8" height="9.8" fill="#000"/>
<rect x="313.3" y="611.7" width="9.8" height="9.8" fill="#000"/>
<rect x="330.5" y="611.7" width="9.8" height="9.8" fill="#000"/>
<rect x="347.7" y="607.1" width="9.8" height="9.8" fill="#000"/>
<polygon points="146.90,450.85 147.83,453.33 150.47,453.44 148.40,455.09 149.10,457.63 146.90,456.18 144.70,457.63 145.40,455.09 143.33,453.44 145.97,453.33" fill="#000"/>
<polygon points="146.90,468.95 147.83,471.43 150.47,471.54 148.40,473.19 149.10,475.73 146.90,474.27 144.70,475.73 145.40,473.19 143.33,471.54 145.97,471.43" fill="#000"/>
<polygon points="146.90,486.95 147.83,489.43 150.47,489.54 148.40,491.19 149.10,493.73 146.90,492.27 144.70,493.73 145.40,491.19 143.33,489.54 145.97,489.43" fill="#000"/>
<polygon points="166.00,468.95 166.93,471.43 169.57,471.54 167.50,473.19 168.20,475.73 166.00,474.27 163.80,475.73 164.50,473.19 162.43,471.54 165.07,471.43" fill="#000"/>
<polygon points="166.00,486.95 166.93,489.43 169.57,489.54 167.50,491.19 168.20,493.73 166.00,492.27 163.80,493.73 164.50,491.19 162.43,489.54 165.07,489.43" fill="#000"/>
<polygon points="166.00,506.45 166.93,508.93 169.57,509.04 167.50,510.69 168.20,513.23 166.00,511.77 163.80,513.23 164.50,510.69 162.43,509.04 165.07,508.93" fill="#000"/>
<polygon points="182.70,476.95 183.63,479.43 186.27,479.54 184.20,481.19 184.90,483.73 182.70,482.27 180.50,483.73 181.20,481.19 179.13,479.54 181.77,479.43" fill="#000"/>
<polygon points="182.70,494.95 183.63,497.43 186.27,497.54 184.20,499.19 184.90,501.73 182.70,500.27 180.50,501.73 181.20,499.19 179.13,497.54 181.77,497.43" fill="#000"/>
<polygon points="182.70,514.45 183.63,516.93 186.27,517.04 184.20,518.69 184.90,521.23 182.70,519.78 180.50,521.23 181.20,518.69 179.13,517.04 181.77,516.93" fill="#000"/>
<polygon points="200.00,485.85 200.93,488.33 203.57,488.44 201.50,490.09 202.20,492.63 200.00,491.18 197.80,492.63 198.50,490.09 196.43,488.44 199.07,488.33" fill="#000"/>
<polygon points="200.00,504.15 200.93,506.63 203.57,506.74 201.50,508.39 202.20,510.93 200.00,509.47 197.80,510.93 198.50,508.39 196.43,506.74 199.07,506.63" fill="#000"/>
<polygon points="200.00,523.35 200.93,525.83 203.57,525.94 201.50,527.59 202.20,530.13 200.00,528.68 197.80,530.13 198.50,527.59 196.43,525.94 199.07,525.83" fill="#000"/>
<polygon points="218.00,510.85 218.93,513.33 221.57,513.44 219.50,515.09 220.20,517.63 218.00,516.18 215.80,517.63 216.50,515.09 214.43,513.44 217.07,513.33" fill="#000"/>
<polygon points="218.00,529.75 218.93,532.23 221.57,532.34 219.50,533.99 220.20,536.53 218.00,535.08 215.80,536.53 216.50,533.99 214.43,532.34 217.07,532.23" fill="#000"/>
<polygon points="218.00,548.65 218.93,551.13 221.57,551.24 219.50,552.89 220.20,555.43 218.00,553.98 215.80,555.43 216.50,552.89 214.43,551.24 217.07,551.13" fill="#000"/>
<polygon points="232.30,516.45 233.23,518.93 235.87,519.04 233.80,520.69 234.50,523.23 232.30,521.78 230.10,523.23 230.80,520.69 228.73,519.04 231.37,518.93" fill="#000"/>
<polygon points="232.30,534.75 233.23,537.23 235.87,537.34 233.80,538.99 234.50,541.53 232.30,540.08 230.10,541.53 230.80,538.99 228.73,537.34 231.37,537.23" fill="#000"/>
<polygon points="232.30,553.95 233.23,556.43 235.87,556.54 233.80,558.19 234.50,560.73 232.30,559.28 230.10,560.73 230.80,558.19 228.73,556.54 231.37,556.43" fill="#000"/>
<polygon points="251.00,518.05 251.93,520.53 254.57,520.64 252.50,522.29 253.20,524.83 251.00,523.38 248.80,524.83 249.50,522.29 247.43,520.64 250.07,520.53" fill="#000"/>
<polygon points="251.00,536.75 251.93,539.23 254.57,539.34 252.50,540.99 253.20,543.53 251.00,542.08 248.80,543.53 249.50,540.99 247.43,539.34 250.07,539.23" fill="#000"/>
<polygon points="251.00,556.25 251.93,558.73 254.57,558.84 252.50,560.49 253.20,563.03 251.00,561.58 248.80,563.03 249.50,560.49 247.43,558.84 250.07,558.73" fill="#000"/>
<polygon points="269.00,532.55 269.93,535.03 272.57,535.14 270.50,536.79 271.20,539.33 269.00,537.88 266.80,539.33 267.50,536.79 265.43,535.14 268.07,535.03" fill="#000"/>
<polygon points="269.00,551.25 269.93,553.73 272.57,553.84 270.50,555.49 271.20,558.03 269.00,556.58 266.80,558.03 267.50,555.49 265.43,553.84 268.07,553.73" fill="#000"/>
<polygon points="269.00,570.65 269.93,573.13 272.57,573.24 270.50,574.89 271.20,577.43 269.00,575.98 266.80,577.43 267.50,574.89 265.43,573.24 268.07,573.13" fill="#000"/>
<polygon points="284.90,531.75 285.83,534.23 288.47,534.34 286.40,535.99 287.10,538.53 284.90,537.08 282.70,538.53 283.40,535.99 281.33,534.34 283.97,534.23" fill="#000"/>
<polygon points="284.90,550.05 285.83,552.53 288.47,552.64 286.40,554.29 287.10,556.83 284.90,555.38 282.70,556.83 283.40,554.29 281.33,552.64 283.97,552.53" fill="#000"/>
<polygon points="284.90,569.55 285.83,572.03 288.47,572.14 286.40,573.79 287.10,576.33 284.90,574.88 282.70,576.33 283.40,573.79 281.33,572.14 283.97,572.03" fill="#000"/>
<polygon points="302.40,531.15 303.33,533.63 305.97,533.74 303.90,535.39 304.60,537.93 302.40,536.48 300.20,537.93 300.90,535.39 298.83,533.74 301.47,533.63" fill="#000"/>
<polygon points="302.40,549.25 303.33,551.73 305.97,551.84 303.90,553.49 304.60,556.03 302.40,554.58 300.20,556.03 300.90,553.49 298.83,551.84 301.47,551.73" fill="#000"/>
<polygon points="302.40,568.75 303.33,571.23 305.97,571.34 303.90,572.99 304.60,575.53 302.40,574.08 300.20,575.53 300.90,572.99 298.83,571.34 301.47,571.23" fill="#000"/>
<polygon points="318.50,543.25 319.43,545.73 322.07,545.84 320.00,547.49 320.70,550.03 318.50,548.58 316.30,550.03 317.00,547.49 314.93,545.84 317.57,545.73" fill="#000"/>
<polygon points="318.50,561.85 319.43,564.33 322.07,564.44 320.00,566.09 320.70,568.63 318.50,567.18 316.30,568.63 317.00,566.09 314.93,564.44 317.57,564.33" fill="#000"/>
<polygon points="318.50,580.75 319.43,583.23 322.07,583.34 320.00,584.99 320.70,587.53 318.50,586.08 316.30,587.53 317.00,584.99 314.93,583.34 317.57,583.23" fill="#000"/>
<polygon points="336.30,548.65 337.23,551.13 339.87,551.24 337.80,552.89 338.50,555.43 336.30,553.98 334.10,555.43 334.80,552.89 332.73,551.24 335.37,551.13" fill="#000"/>
<polygon points="336.30,567.65 337.23,570.13 339.87,570.24 337.80,571.89 338.50,574.43 336.30,572.98 334.10,574.43 334.80,571.89 332.73,570.24 335.37,570.13" fill="#000"/>
<polygon points="336.30,586.25 337.23,588.73 339.87,588.84 337.80,590.49 338.50,593.03 336.30,591.58 334.10,593.03 334.80,590.49 332.73,588.84 335.37,588.73" fill="#000"/>
<polygon points="353.00,544.55 353.93,547.03 356.57,547.14 354.50,548.79 355.20,551.33 353.00,549.88 350.80,551.33 351.50,548.79 349.43,547.14 352.07,547.03" fill="#000"/>
<polygon points="353.00,563.55 353.93,566.03 356.57,566.14 354.50,567.79 355.20,570.33 353.00,568.88 350.80,570.33 351.50,567.79 349.43,566.14 352.07,566.03" fill="#000"/>
<polygon points="353.00,582.15 353.93,584.63 356.57,584.74 354.50,586.39 355.20,588.93 353.00,587.48 350.80,588.93 351.50,586.39 349.43,584.74 352.07,584.63" fill="#000"/>
<text x="214.0" y="723.5" font-size="17" text-anchor="middle" font-weight="normal" >Time after first dose (min)</text>
<text x="565.0" y="723.5" font-size="17" text-anchor="middle" font-weight="normal" >Time after first dose (h)</text>
<line x1="412.9" y1="7.5" x2="412.9" y2="312.0" stroke="#2a2a2a" stroke-width="1.25"/>
<line x1="407.9" y1="312.0" x2="719.0" y2="312.0" stroke="#2a2a2a" stroke-width="1.25"/>
<line x1="407.4" y1="312.0" x2="412.9" y2="312.0" stroke="#2a2a2a" stroke-width="1.25"/>
<line x1="407.4" y1="261.2" x2="412.9" y2="261.2" stroke="#2a2a2a" stroke-width="1.25"/>
<line x1="407.4" y1="210.5" x2="412.9" y2="210.5" stroke="#2a2a2a" stroke-width="1.25"/>
<line x1="407.4" y1="159.8" x2="412.9" y2="159.8" stroke="#2a2a2a" stroke-width="1.25"/>
<line x1="407.4" y1="109.0" x2="412.9" y2="109.0" stroke="#2a2a2a" stroke-width="1.25"/>
<line x1="407.4" y1="58.2" x2="412.9" y2="58.2" stroke="#2a2a2a" stroke-width="1.25"/>
<line x1="407.4" y1="7.5" x2="412.9" y2="7.5" stroke="#2a2a2a" stroke-width="1.25"/>
<line x1="412.5" y1="312.0" x2="412.5" y2="316.0" stroke="#2a2a2a" stroke-width="1.25"/>
<text x="412.5" y="337.0" font-size="14" text-anchor="middle" font-weight="normal" >0</text>
<line x1="499.7" y1="312.0" x2="499.7" y2="316.0" stroke="#2a2a2a" stroke-width="1.25"/>
<text x="499.7" y="337.0" font-size="14" text-anchor="middle" font-weight="normal" >20</text>
<line x1="586.9" y1="312.0" x2="586.9" y2="316.0" stroke="#2a2a2a" stroke-width="1.25"/>
<text x="586.9" y="337.0" font-size="14" text-anchor="middle" font-weight="normal" >40</text>
<line x1="674.1" y1="312.0" x2="674.1" y2="316.0" stroke="#2a2a2a" stroke-width="1.25"/>
<text x="674.1" y="337.0" font-size="14" text-anchor="middle" font-weight="normal" >60</text>
<text x="389.5" y="18.6" font-size="21" text-anchor="start" font-weight="bold" >b</text>
<line x1="517.1" y1="134.2" x2="517.1" y2="126.2" stroke="#111" stroke-width="1.1"/>
<line x1="513.3" y1="126.2" x2="520.9" y2="126.2" stroke="#111" stroke-width="1.1"/>
<line x1="621.8" y1="139.8" x2="621.8" y2="133.8" stroke="#111" stroke-width="1.1"/>
<line x1="618.0" y1="133.8" x2="625.6" y2="133.8" stroke="#111" stroke-width="1.1"/>
<polyline points="451.7,96.6 517.1,134.2 621.8,139.8 709.0,113.9" fill="none" stroke="#000" stroke-width="1.4" stroke-linejoin="round"/>
<circle cx="451.7" cy="96.6" r="4.8" fill="#fff" stroke="#000" stroke-width="1.25"/>
<circle cx="517.1" cy="134.2" r="4.8" fill="#fff" stroke="#000" stroke-width="1.25"/>
<circle cx="621.8" cy="139.8" r="4.8" fill="#fff" stroke="#000" stroke-width="1.25"/>
<line x1="451.7" y1="83.5" x2="451.7" y2="119.2" stroke="#111" stroke-width="1.1"/>
<line x1="447.9" y1="83.5" x2="455.5" y2="83.5" stroke="#111" stroke-width="1.1"/>
<line x1="447.9" y1="119.2" x2="455.5" y2="119.2" stroke="#111" stroke-width="1.1"/>
<line x1="709.0" y1="101.2" x2="709.0" y2="96.2" stroke="#111" stroke-width="1.1"/>
<line x1="705.2" y1="96.2" x2="712.8" y2="96.2" stroke="#111" stroke-width="1.1"/>
<polyline points="451.7,100.1 517.1,80.8 621.8,103.7 709.0,101.2" fill="none" stroke="#000" stroke-width="1.4" stroke-linejoin="round"/>
<polygon points="451.7,94.4 457.2,103.7 446.2,103.7" fill="#000"/>
<polygon points="517.1,75.0 522.6,84.4 511.6,84.4" fill="#000"/>
<polygon points="621.8,97.9 627.3,107.3 616.3,107.3" fill="#000"/>
<polygon points="709.0,95.4 714.5,104.7 703.5,104.7" fill="#000"/>
<line x1="451.7" y1="191.1" x2="451.7" y2="169.1" stroke="#111" stroke-width="1.1"/>
<line x1="447.9" y1="169.1" x2="455.5" y2="169.1" stroke="#111" stroke-width="1.1"/>
<line x1="621.8" y1="103.7" x2="621.8" y2="95.0" stroke="#111" stroke-width="1.1"/>
<line x1="618.0" y1="95.0" x2="625.6" y2="95.0" stroke="#111" stroke-width="1.1"/>
<line x1="621.8" y1="103.7" x2="621.8" y2="112.4" stroke="#111" stroke-width="1.1"/>
<line x1="618.0" y1="112.4" x2="625.6" y2="112.4" stroke="#111" stroke-width="1.1"/>
<polyline points="451.7,191.1 517.1,80.8 621.8,106.8 709.0,112.3" fill="none" stroke="#000" stroke-width="1.4" stroke-linejoin="round"/>
<rect x="446.8" y="186.2" width="9.8" height="9.8" fill="#000"/>
<rect x="512.2" y="75.9" width="9.8" height="9.8" fill="#000"/>
<rect x="616.9" y="101.9" width="9.8" height="9.8" fill="#000"/>
<rect x="704.1" y="107.4" width="9.8" height="9.8" fill="#000"/>
<polygon points="517.00,47.60 517.72,49.51 519.76,49.60 518.16,50.88 518.70,52.85 517.00,51.72 515.30,52.85 515.84,50.88 514.24,49.60 516.28,49.51" fill="#000"/>
<polygon points="517.00,66.30 517.72,68.21 519.76,68.30 518.16,69.58 518.70,71.55 517.00,70.42 515.30,71.55 515.84,69.58 514.24,68.30 516.28,68.21" fill="#000"/>
<polygon points="622.50,67.10 623.22,69.01 625.26,69.10 623.66,70.38 624.20,72.35 622.50,71.22 620.80,72.35 621.34,70.38 619.74,69.10 621.78,69.01" fill="#000"/>
<polygon points="622.50,86.35 623.22,88.26 625.26,88.35 623.66,89.63 624.20,91.60 622.50,90.47 620.80,91.60 621.34,89.63 619.74,88.35 621.78,88.26" fill="#000"/>
<polygon points="454.00,199.60 454.72,201.51 456.76,201.60 455.16,202.88 455.70,204.85 454.00,203.72 452.30,204.85 452.84,202.88 451.24,201.60 453.28,201.51" fill="#000"/>
<polygon points="454.00,218.35 454.72,220.26 456.76,220.35 455.16,221.63 455.70,223.60 454.00,222.47 452.30,223.60 452.84,221.63 451.24,220.35 453.28,220.26" fill="#000"/>
<polygon points="454.00,237.60 454.72,239.51 456.76,239.60 455.16,240.88 455.70,242.85 454.00,241.72 452.30,242.85 452.84,240.88 451.24,239.60 453.28,239.51" fill="#000"/>
<rect x="505.8" y="222.5" width="212" height="75.8" fill="#fff" stroke="#222" stroke-width="1.1"/>
<line x1="516.0" y1="241.2" x2="548.3" y2="241.2" stroke="#111" stroke-width="1.1"/>
<circle cx="532.0" cy="241.2" r="4.8" fill="#fff" stroke="#000" stroke-width="1.25"/>
<text x="555.6" y="245.8" font-size="13.4" text-anchor="start" font-weight="normal" textLength="40" lengthAdjust="spacingAndGlyphs">Saline</text>
<line x1="516.0" y1="260.8" x2="548.3" y2="260.8" stroke="#111" stroke-width="1.1"/>
<polygon points="532.0,255.0 537.5,264.3 526.5,264.3" fill="#000"/>
<text x="555.6" y="265.4" font-size="13.4" text-anchor="start" font-weight="normal" textLength="150.8" lengthAdjust="spacingAndGlyphs">10 mg/kg 5-MEO-DIPT</text>
<line x1="516.0" y1="280.0" x2="548.3" y2="280.0" stroke="#111" stroke-width="1.1"/>
<rect x="527.1" y="275.1" width="9.8" height="9.8" fill="#000"/>
<text x="555.6" y="284.6" font-size="13.4" text-anchor="start" font-weight="normal" textLength="150.8" lengthAdjust="spacingAndGlyphs">20 mg/kg 5-MEO-DIPT</text>
<line x1="412.1" y1="371.2" x2="412.1" y2="675.0" stroke="#2a2a2a" stroke-width="1.25"/>
<line x1="407.1" y1="675.0" x2="719.0" y2="675.0" stroke="#2a2a2a" stroke-width="1.25"/>
<line x1="406.6" y1="675.0" x2="412.1" y2="675.0" stroke="#2a2a2a" stroke-width="1.25"/>
<line x1="406.6" y1="624.4" x2="412.1" y2="624.4" stroke="#2a2a2a" stroke-width="1.25"/>
<line x1="406.6" y1="573.7" x2="412.1" y2="573.7" stroke="#2a2a2a" stroke-width="1.25"/>
<line x1="406.6" y1="523.1" x2="412.1" y2="523.1" stroke="#2a2a2a" stroke-width="1.25"/>
<line x1="406.6" y1="472.5" x2="412.1" y2="472.5" stroke="#2a2a2a" stroke-width="1.25"/>
<line x1="406.6" y1="421.8" x2="412.1" y2="421.8" stroke="#2a2a2a" stroke-width="1.25"/>
<line x1="406.6" y1="371.2" x2="412.1" y2="371.2" stroke="#2a2a2a" stroke-width="1.25"/>
<line x1="412.2" y1="675.0" x2="412.2" y2="679.0" stroke="#2a2a2a" stroke-width="1.25"/>
<text x="412.2" y="700.0" font-size="14" text-anchor="middle" font-weight="normal" >0</text>
<line x1="499.4" y1="675.0" x2="499.4" y2="679.0" stroke="#2a2a2a" stroke-width="1.25"/>
<text x="499.4" y="700.0" font-size="14" text-anchor="middle" font-weight="normal" >20</text>
<line x1="586.6" y1="675.0" x2="586.6" y2="679.0" stroke="#2a2a2a" stroke-width="1.25"/>
<text x="586.6" y="700.0" font-size="14" text-anchor="middle" font-weight="normal" >40</text>
<line x1="673.8" y1="675.0" x2="673.8" y2="679.0" stroke="#2a2a2a" stroke-width="1.25"/>
<text x="673.8" y="700.0" font-size="14" text-anchor="middle" font-weight="normal" >60</text>
<text x="389.0" y="381.3" font-size="21" text-anchor="start" font-weight="bold" >d</text>
<line x1="516.8" y1="431.9" x2="516.8" y2="425.4" stroke="#111" stroke-width="1.1"/>
<line x1="513.0" y1="425.4" x2="520.6" y2="425.4" stroke="#111" stroke-width="1.1"/>
<line x1="516.8" y1="490.1" x2="516.8" y2="483.6" stroke="#111" stroke-width="1.1"/>
<line x1="513.0" y1="483.6" x2="520.6" y2="483.6" stroke="#111" stroke-width="1.1"/>
<line x1="621.5" y1="457.2" x2="621.5" y2="449.7" stroke="#111" stroke-width="1.1"/>
<line x1="617.7" y1="449.7" x2="625.3" y2="449.7" stroke="#111" stroke-width="1.1"/>
<line x1="621.5" y1="485.5" x2="621.5" y2="475.0" stroke="#111" stroke-width="1.1"/>
<line x1="617.7" y1="475.0" x2="625.3" y2="475.0" stroke="#111" stroke-width="1.1"/>
<line x1="708.7" y1="475.9" x2="708.7" y2="470.9" stroke="#111" stroke-width="1.1"/>
<line x1="704.9" y1="470.9" x2="712.5" y2="470.9" stroke="#111" stroke-width="1.1"/>
<line x1="708.7" y1="497.2" x2="708.7" y2="488.7" stroke="#111" stroke-width="1.1"/>
<line x1="704.9" y1="488.7" x2="712.5" y2="488.7" stroke="#111" stroke-width="1.1"/>
<polyline points="516.8,490.1 621.5,485.5 708.7,497.2" fill="none" stroke="#000" stroke-width="1.4" stroke-linejoin="round"/>
<polyline points="516.8,431.9 621.5,457.2 708.7,475.9" fill="none" stroke="#000" stroke-width="1.4" stroke-linejoin="round"/>
<rect x="511.9" y="427.0" width="9.8" height="9.8" fill="#000"/>
<rect x="616.6" y="452.3" width="9.8" height="9.8" fill="#000"/>
<rect x="703.8" y="471.0" width="9.8" height="9.8" fill="#000"/>
<circle cx="516.8" cy="490.1" r="4.8" fill="#fff" stroke="#000" stroke-width="1.25"/>
<circle cx="621.5" cy="485.5" r="4.8" fill="#fff" stroke="#000" stroke-width="1.25"/>
<circle cx="708.7" cy="497.2" r="4.8" fill="#fff" stroke="#000" stroke-width="1.25"/>
<polygon points="520.75,376.20 521.56,378.38 523.89,378.48 522.07,379.93 522.69,382.17 520.75,380.89 518.81,382.17 519.43,379.93 517.61,378.48 519.94,378.38" fill="#000"/>
<polygon points="520.75,394.95 521.56,397.13 523.89,397.23 522.07,398.68 522.69,400.92 520.75,399.64 518.81,400.92 519.43,398.68 517.61,397.23 519.94,397.13" fill="#000"/>
<polygon points="520.75,413.70 521.56,415.88 523.89,415.98 522.07,417.43 522.69,419.67 520.75,418.39 518.81,419.67 519.43,417.43 517.61,415.98 519.94,415.88" fill="#000"/>
<polygon points="625.90,423.40 626.71,425.58 629.04,425.68 627.22,427.13 627.84,429.37 625.90,428.09 623.96,429.37 624.58,427.13 622.76,425.68 625.09,425.58" fill="#000"/>
<path d="M710.3,441 L712.3,441 L712.1,456 L710.5,456 Z" fill="#111"/>
<line x1="707.0" y1="445.4" x2="715.7" y2="445.4" stroke="#111" stroke-width="2.0"/>
<rect x="509.9" y="604.2" width="203.6" height="54.4" fill="#fff" stroke="#222" stroke-width="1.1"/>
<line x1="520.0" y1="622.8" x2="551.8" y2="622.8" stroke="#111" stroke-width="1.1"/>
<circle cx="535.8" cy="622.8" r="4.8" fill="#fff" stroke="#000" stroke-width="1.25"/>
<text x="559.3" y="627.2" font-size="13.4" text-anchor="start" font-weight="normal" textLength="40.3" lengthAdjust="spacingAndGlyphs">Saline</text>
<line x1="520.0" y1="641.0" x2="551.8" y2="641.0" stroke="#111" stroke-width="1.1"/>
<rect x="530.9" y="636.1" width="9.8" height="9.8" fill="#000"/>
<text x="559.3" y="645.4" font-size="13.4" text-anchor="start" font-weight="normal" textLength="144.3" lengthAdjust="spacingAndGlyphs">20 mg/kg 5-MEO-DIPT</text>
</svg></body></html>
